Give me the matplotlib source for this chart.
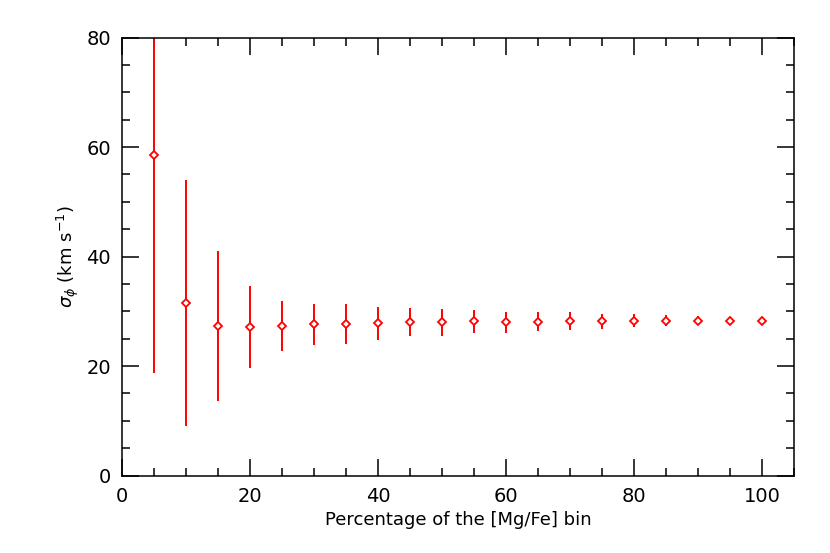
import numpy as np
import matplotlib.pyplot as plt
from matplotlib.ticker import MultipleLocator

# percentage of the [Mg/Fe] bin
pct = [5, 10, 15, 20, 25, 30, 35, 40, 45, 50, 55, 60, 65, 70, 75, 80, 85, 90, 95, 100]
sigma_phi = [58.6, 31.5, 27.4, 27.1, 27.3, 27.6, 27.7, 27.8, 28.0, 28.0, 28.2, 28.0,
             28.1, 28.2, 28.2, 28.3, 28.3, 28.3, 28.3, 28.3]
sigma_err = [39.8, 22.4, 13.7, 7.5, 4.6, 3.8, 3.6, 3.05, 2.55, 2.45, 2.1, 1.9,
             1.77, 1.6, 1.37, 1.16, 1.03, 0.82, 0.4, 0.0]

plt.rcParams['font.family'] = 'DejaVu Sans'

fig = plt.figure(figsize=(8.3, 5.53), dpi=100)
ax = fig.add_axes([0.147, 0.140, 0.810, 0.792])

ax.errorbar(pct, sigma_phi, yerr=sigma_err, fmt='D', color='red', ecolor='red',
            elinewidth=1.4, markersize=4, markerfacecolor='white',
            markeredgewidth=1.3, capsize=0)

ax.set_xlim(0, 105)
ax.set_ylim(0, 80)
ax.xaxis.set_major_locator(MultipleLocator(20))
ax.xaxis.set_minor_locator(MultipleLocator(5))
ax.yaxis.set_major_locator(MultipleLocator(20))
ax.yaxis.set_minor_locator(MultipleLocator(5))
ax.tick_params(which='both', direction='in', top=True, right=True, labelsize=14, width=1.1)
ax.tick_params(which='major', length=12, pad=8)
ax.tick_params(which='minor', length=6)
for s in ax.spines.values():
    s.set_linewidth(1.1)

ax.set_xlabel("Percentage of the [Mg/Fe] bin", fontsize=13)
ax.set_ylabel(r"$\sigma_\phi$ (km s$^{-1}$)", fontsize=13)

plt.savefig("out.png", dpi=100)
plt.close()
